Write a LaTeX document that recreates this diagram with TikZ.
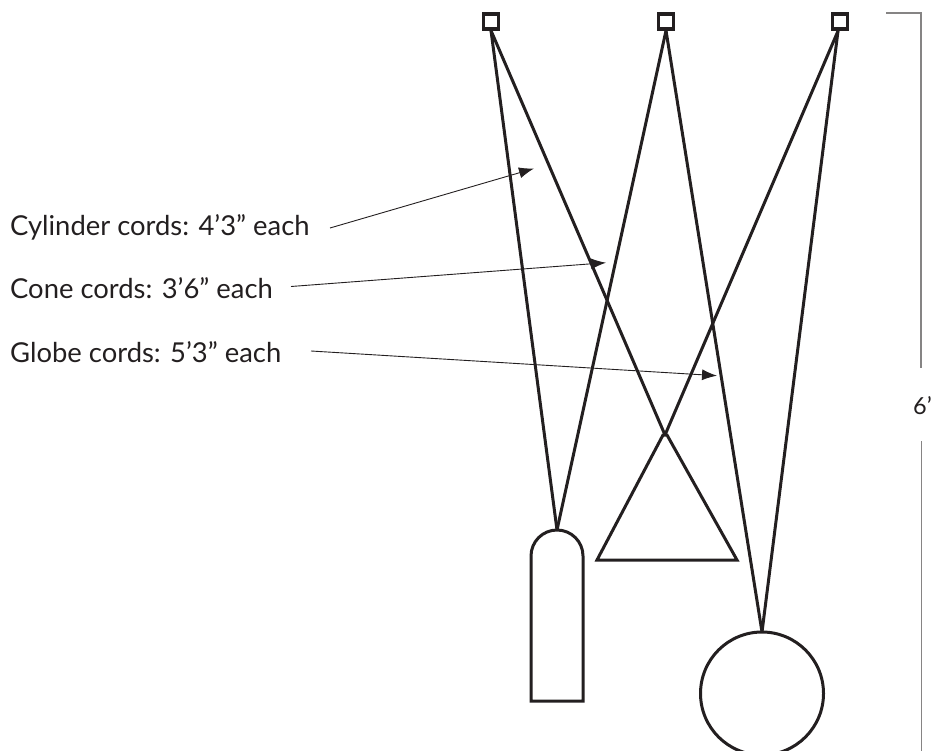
\documentclass[tikz,border=0pt]{standalone}
\usepackage{fontspec}
\setmainfont{Lato}
\usetikzlibrary{arrows.meta}
\definecolor{ink}{HTML}{231F20}
\tikzset{
  x=1pt,y=-1pt,
  hook/.style={draw=ink,line width=3.2pt,minimum size=15pt,inner sep=0pt,fill=white},
  cord/.style={draw=ink,line width=3pt},
  shade/.style={draw=ink,line width=3pt},
  lbl/.style={text=ink,font=\fontsize{27.4}{32}\selectfont,inner sep=0pt,anchor=base west},
  lblsmall/.style={lbl,font=\fontsize{23.5}{28}\selectfont},
  pointer/.style={draw=ink,line width=0.9pt,-{Latex[length=15pt,width=11pt]}},
  dim/.style={draw=ink!55,line width=1.1pt},
}
\begin{document}
\begin{tikzpicture}
\useasboundingbox (0,0) rectangle (933,751);
\clip (0,0) rectangle (933,751);
\node[hook] (a) at (491,21.5) {};
\node[hook] (b) at (666,21.5) {};
\node[hook] (c) at (840,21.5) {};
\coordinate (cyl) at (557,530);
\coordinate (apex) at (665,435);
\coordinate (glb) at (762,632);
\coordinate (cR) at (838,31);
\draw[cord] (a.south) -- (cyl);
\draw[cord] (a.south) -- (apex);
\draw[cord] (b.south) -- (cyl);
\draw[cord] (b.south) -- (glb);
\draw[cord] (cR) -- (apex);
\draw[cord] (cR) -- (glb);
\draw[shade] (531,701) -- (531,556) arc[start angle=180,end angle=360,radius=26] -- (583,701) -- cycle;
\draw[shade,line join=miter] (663,435) -- (667,435) -- (737,560) -- (597,560) -- cycle;
\node[draw=ink,line width=3pt,circle,minimum size=123pt,inner sep=0pt] (globe) at (762,693.5) {};
\node[lbl] (t1) at (10,235) {Cylinder cords: 4’3” each};
\node[lbl] (t2) at (10,298) {Cone cords: 3’6” each};
\node[lbl] (t3) at (10,362) {Globe cords: 5’3” each};
\coordinate (s1) at (330,228);
\coordinate (e1) at (534,168.5);
\coordinate (s2) at (291,286.5);
\coordinate (e2) at (606,262.7);
\coordinate (s3) at (311,351);
\coordinate (e3) at (717,375.7);
\draw[pointer] (s1) -- (e1);
\draw[pointer] (s2) -- (e2);
\draw[pointer] (s3) -- (e3);
\coordinate (d0) at (886,13);
\coordinate (d1) at (921,13);
\coordinate (d2) at (921,368);
\coordinate (d3) at (921.5,441);
\coordinate (d4) at (921.5,751);
\draw[dim] (d0) -- (d1) -- (d2);
\draw[dim] (d3) -- (d4);
\node[lblsmall] (t4) at (913,414) {6’};
\end{tikzpicture}
\end{document}
